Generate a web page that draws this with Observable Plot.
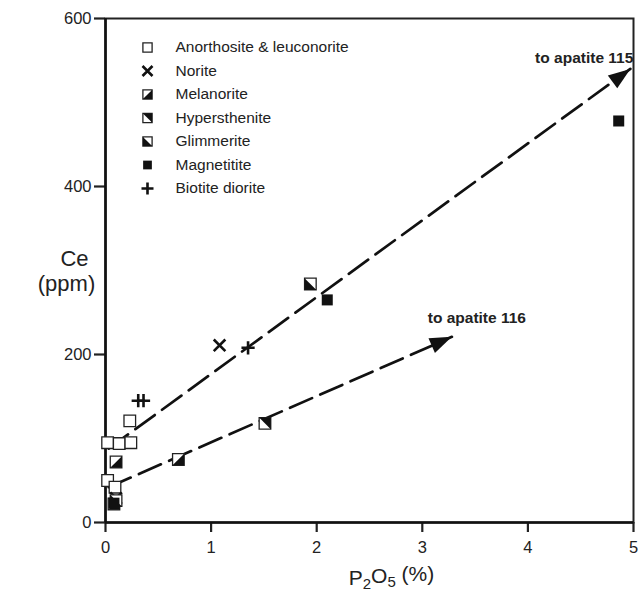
<!DOCTYPE html>
<html><head><meta charset="utf-8">
<script src="https://cdn.jsdelivr.net/npm/d3@7"></script>
<script src="https://cdn.jsdelivr.net/npm/@observablehq/plot@0.6"></script>
<style>
body{margin:0;background:#fff}
svg{font-family:"Liberation Sans", Arial, sans-serif}
</style>
</head><body><div id="chart"></div>
<script>
// ---- data ----
const xTicks = [0, 1, 2, 3, 4, 5];
const yTicks = [0, 200, 400, 600];
const categories = ["Anorthosite & leuconorite", "Norite", "Melanorite", "Hypersthenite", "Glimmerite", "Magnetitite", "Biotite diorite"];
const anorthosite = [[0.02, 95], [0.13, 94], [0.24, 95], [0.23, 121], [0.02, 50], [0.09, 42]];
const norite = [[1.08, 211], [0.10, 29]];
const melanorite = [[0.10, 72], [0.69, 75], [0.08, 22]];
const hypersthenite = [[1.51, 118]];
const glimmerite = [[1.94, 284], [0.10, 26]];
const magnetitite = [[2.10, 265], [4.86, 478], [0.08, 23]];
const biotite = [[0.31, 145], [0.36, 145], [1.35, 208]];
const trend115 = [[0.03, 88], [4.97, 540]];
const trend116 = [[0.03, 42], [3.28, 221]];
const trendLabels = ["to apatite 115", "to apatite 116"];

// ---- layout ----
const W = 640, H = 594, ML = 105, MR = 7, MT = 18, MB = 72;
const kx = (W - ML - MR) / 5, ky = (H - MT - MB) / 600;

// ---- symbols ----
const sq = s => ({draw(c){ c.rect(-s, -s, 2*s, 2*s); }});
const triLR = s => ({draw(c){ c.moveTo(-s, s); c.lineTo(s, s); c.lineTo(s, -s); c.closePath(); }});
const triUR = s => ({draw(c){ c.moveTo(-s, -s); c.lineTo(s, -s); c.lineTo(s, s); c.closePath(); }});
const triLL = s => ({draw(c){ c.moveTo(-s, -s); c.lineTo(-s, s); c.lineTo(s, s); c.closePath(); }});
const cross = s => ({draw(c){ c.moveTo(-s, -s); c.lineTo(s, s); c.moveTo(s, -s); c.lineTo(-s, s); }});
const plus = s => ({draw(c){ c.moveTo(-s, 0); c.lineTo(s, 0); c.moveTo(0, -s); c.lineTo(0, s); }});
function arrowHead(p0, p1, L = 22, w = 8) {
  const a = Math.atan2(-(p1[1] - p0[1]) * ky, (p1[0] - p0[0]) * kx);
  const ca = Math.cos(a), sa = Math.sin(a);
  const rot = (x, y) => [x * ca - y * sa, x * sa + y * ca];
  return {draw(c){
    const A = rot(0, 0), B = rot(-L, -w), C = rot(-L, w);
    c.moveTo(A[0], A[1]); c.lineTo(B[0], B[1]); c.lineTo(C[0], C[1]); c.closePath();
  }};
}

const xy = {x: d => d[0], y: d => d[1]};
function styled(data, kind, s, extra = {}) {
  const base = {...xy, ...extra};
  const open = Plot.dot(data, {...base, symbol: sq(s), fill: "white", stroke: "#222", strokeWidth: 1.3});
  const half = f => [open, Plot.dot(data, {...base, symbol: f(s), fill: "#111", stroke: "none"})];
  switch (kind) {
    case 0: return [open];
    case 1: return [Plot.dot(data, {...base, symbol: cross(s), stroke: "#111", strokeWidth: 2.6})];
    case 2: return half(triLR);
    case 3: return half(triUR);
    case 4: return half(triLL);
    case 5: return [Plot.dot(data, {...base, symbol: sq(s * 0.95), fill: "#111", stroke: "none"})];
    case 6: return [Plot.dot(data, {...base, symbol: plus(s + 0.8), stroke: "#111", strokeWidth: 2.6})];
  }
}
const groups = [anorthosite, norite, melanorite, hypersthenite, glimmerite, magnetitite, biotite];

// legend
const legendMarks = categories.flatMap((name, i) => {
  const dy = 29 + i * 23.5;
  const k = i === 1 ? 5 : (i === 6 ? 5.2 : 4.6);
  return [
    ...styled([0], i, k, {x: null, y: null, frameAnchor: "top-left", dx: 42, dy}),
    Plot.text([name], {frameAnchor: "top-left", dx: 70, dy, text: d => d, textAnchor: "start", lineAnchor: "middle", fontSize: 15.5, fill: "#222"})
  ];
});

const chart = Plot.plot({
  width: W, height: H,
  marginLeft: ML, marginRight: MR, marginTop: MT, marginBottom: MB,
  style: {fontFamily: '"Liberation Sans", Arial, sans-serif', background: "white", color: "#222", overflow: "visible"},
  x: {domain: [0, 5]},
  y: {domain: [0, 600]},
  marks: [
    Plot.frame({stroke: "#222", strokeWidth: 2}),
    Plot.axisX({ticks: xTicks, tickSize: 10, tickPadding: 9, fontSize: 16.5, strokeWidth: 2.2, label: null, tickFormat: d3.format("d")}),
    Plot.axisY({ticks: yTicks, tickSize: 11, tickPadding: 3, fontSize: 16.5, strokeWidth: 2.2, label: null}),
    Plot.ruleX([0], {stroke: "#111", strokeWidth: 2.6}),
    Plot.ruleY([0], {stroke: "#111", strokeWidth: 2.6}),
    Plot.line(trend115, {...xy, stroke: "#111", strokeWidth: 2.7, strokeDasharray: "24 9"}),
    Plot.line(trend116, {...xy, stroke: "#111", strokeWidth: 2.7, strokeDasharray: "24 9"}),
    Plot.dot([trend115[1]], {...xy, symbol: arrowHead(trend115[0], trend115[1]), fill: "#111", stroke: "none"}),
    Plot.dot([trend116[1]], {...xy, symbol: arrowHead(trend116[0], trend116[1]), fill: "#111", stroke: "none"}),
    Plot.text([trendLabels[0]], {x: trend115[1][0], y: trend115[1][1], text: d => d, textAnchor: "end", dx: 3, dy: -11, fontSize: 15.5, fontWeight: "bold", fill: "#222"}),
    Plot.text([trendLabels[1]], {x: trend116[1][0], y: trend116[1][1], text: d => d, textAnchor: "middle", dx: 25, dy: -19, fontSize: 15.5, fontWeight: "bold", fill: "#222"}),
    ...groups.flatMap((g, i) => styled(g, i, 5.8)),
    ...legendMarks,
    Plot.text(["Ce"], {frameAnchor: "left", dx: -31, dy: -12, text: d => d, textAnchor: "middle", fontSize: 22, fill: "#222"}),
    Plot.text(["(ppm)"], {frameAnchor: "left", dx: -39, dy: 13, text: d => d, textAnchor: "middle", fontSize: 22, fill: "#222"}),
    Plot.text(["P2O5 (%)"], {frameAnchor: "bottom", dx: 22, dy: 62, text: d => d, fontSize: 21, fill: "#222"})
  ]
});
document.getElementById("chart").appendChild(chart);

// subscripts in the x label
d3.select(chart).selectAll("text").filter(function(){ return this.textContent === "P2O5 (%)"; }).each(function(){
  const t = d3.select(this);
  t.text(null);
  t.append("tspan").text("P");
  t.append("tspan").attr("dy", "0.3em").attr("font-size", "15").text("2");
  t.append("tspan").attr("dy", "-0.3em").text("O");
  t.append("tspan").attr("dy", "0.3em").attr("font-size", "15").text("5");
  t.append("tspan").attr("dy", "-0.3em").text(" (%)");
});
</script></body></html>
